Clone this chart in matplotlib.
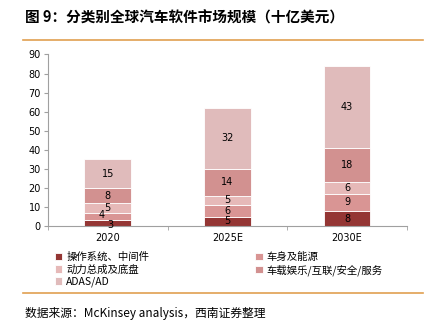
import matplotlib
matplotlib.use('Agg')
import matplotlib.pyplot as plt
import numpy as np

plt.rcParams['font.family'] = ['Noto Sans CJK SC', 'DejaVu Sans']

# Datos
years = ['2020', '2025E', '2030E']
series_names = ['操作系统、中间件', '车身及能源', '动力总成及底盘',
                '车载娱乐/互联/安全/服务', 'ADAS/AD']
os_mid = [3, 5, 8]
body_energy = [4, 6, 9]
powertrain = [5, 5, 6]
infotainment = [8, 14, 18]
adas = [15, 32, 43]
colors = ['#943634', '#D99594', '#E6B9B8', '#D29190', '#E0BBBB']

fig = plt.figure(figsize=(4.27, 3.24), dpi=100)
ax = fig.add_axes([0.112, 0.302, 0.841, 0.53])

x = np.arange(len(years))
bottom = np.zeros(len(years))
handles = []
for k, (vals, name, c) in enumerate(zip([os_mid, body_energy, powertrain, infotainment, adas],
                                        series_names, colors)):
    b = ax.bar(x, vals, width=0.39, bottom=bottom, color=c, edgecolor='white',
               linewidth=0.6, label=name)
    handles.append(b)
    for xi, v, bt in zip(x, vals, bottom):
        dx, dy = 0, 0
        # etiquetas pequeñas de 2020 se solapan: desplazar un poco
        if xi == 0 and k == 0:
            dx, dy = 0.02, -0.8
        if xi == 0 and k == 1:
            dx, dy = -0.05, 1.0
        ax.text(xi + dx, bt + v / 2 + dy, str(v), ha='center', va='center',
                fontsize=7, family=['DejaVu Sans'])
    bottom += np.array(vals)

ax.set_xlim(-0.5, 2.5)
ax.set_ylim(0, 90)
ax.set_yticks(range(0, 91, 10))
ax.set_xticks(x)
ax.set_xticklabels(years)
ax.set_xticks([-0.5, 0.5, 1.5, 2.5], minor=True)
ax.tick_params(axis='x', which='major', length=0, labelsize=7, pad=5)
ax.tick_params(axis='x', which='minor', length=3, color='#A0A0A0')
ax.tick_params(axis='y', labelsize=7, length=3, color='#A0A0A0', pad=2)
for lbl in ax.get_xticklabels() + ax.get_yticklabels():
    lbl.set_family(['DejaVu Sans'])
for s in ['top', 'right']:
    ax.spines[s].set_visible(False)
for s in ['left', 'bottom']:
    ax.spines[s].set_color('#A0A0A0')
    ax.spines[s].set_linewidth(0.8)

# Leyenda: orden por filas
order = [0, 2, 4, 1, 3]
leg = fig.legend([handles[i] for i in order], [series_names[i] for i in order],
                 loc='upper left', bbox_to_anchor=(0.128, 0.222), ncol=2,
                 frameon=False, fontsize=7.5, handlelength=0.7, handleheight=0.7,
                 handletextpad=0.4, columnspacing=10.2, labelspacing=0.2,
                 borderaxespad=0, borderpad=0)

# Titulo y lineas naranjas
fig.text(0.058, 0.945, '图 9：分类别全球汽车软件市场规模（十亿美元）', fontsize=10.5,
         fontweight='bold', va='center')
fig.add_artist(plt.Line2D([0.054, 0.99], [0.877, 0.877], color='#E0A050', lw=1.2))
fig.add_artist(plt.Line2D([0.054, 0.99], [0.096, 0.096], color='#E0A050', lw=1.2))
fig.text(0.058, 0.033, '数据来源：McKinsey analysis，西南证券整理', fontsize=8.5,
         style='italic', va='center')

plt.savefig('out.png', dpi=100)
